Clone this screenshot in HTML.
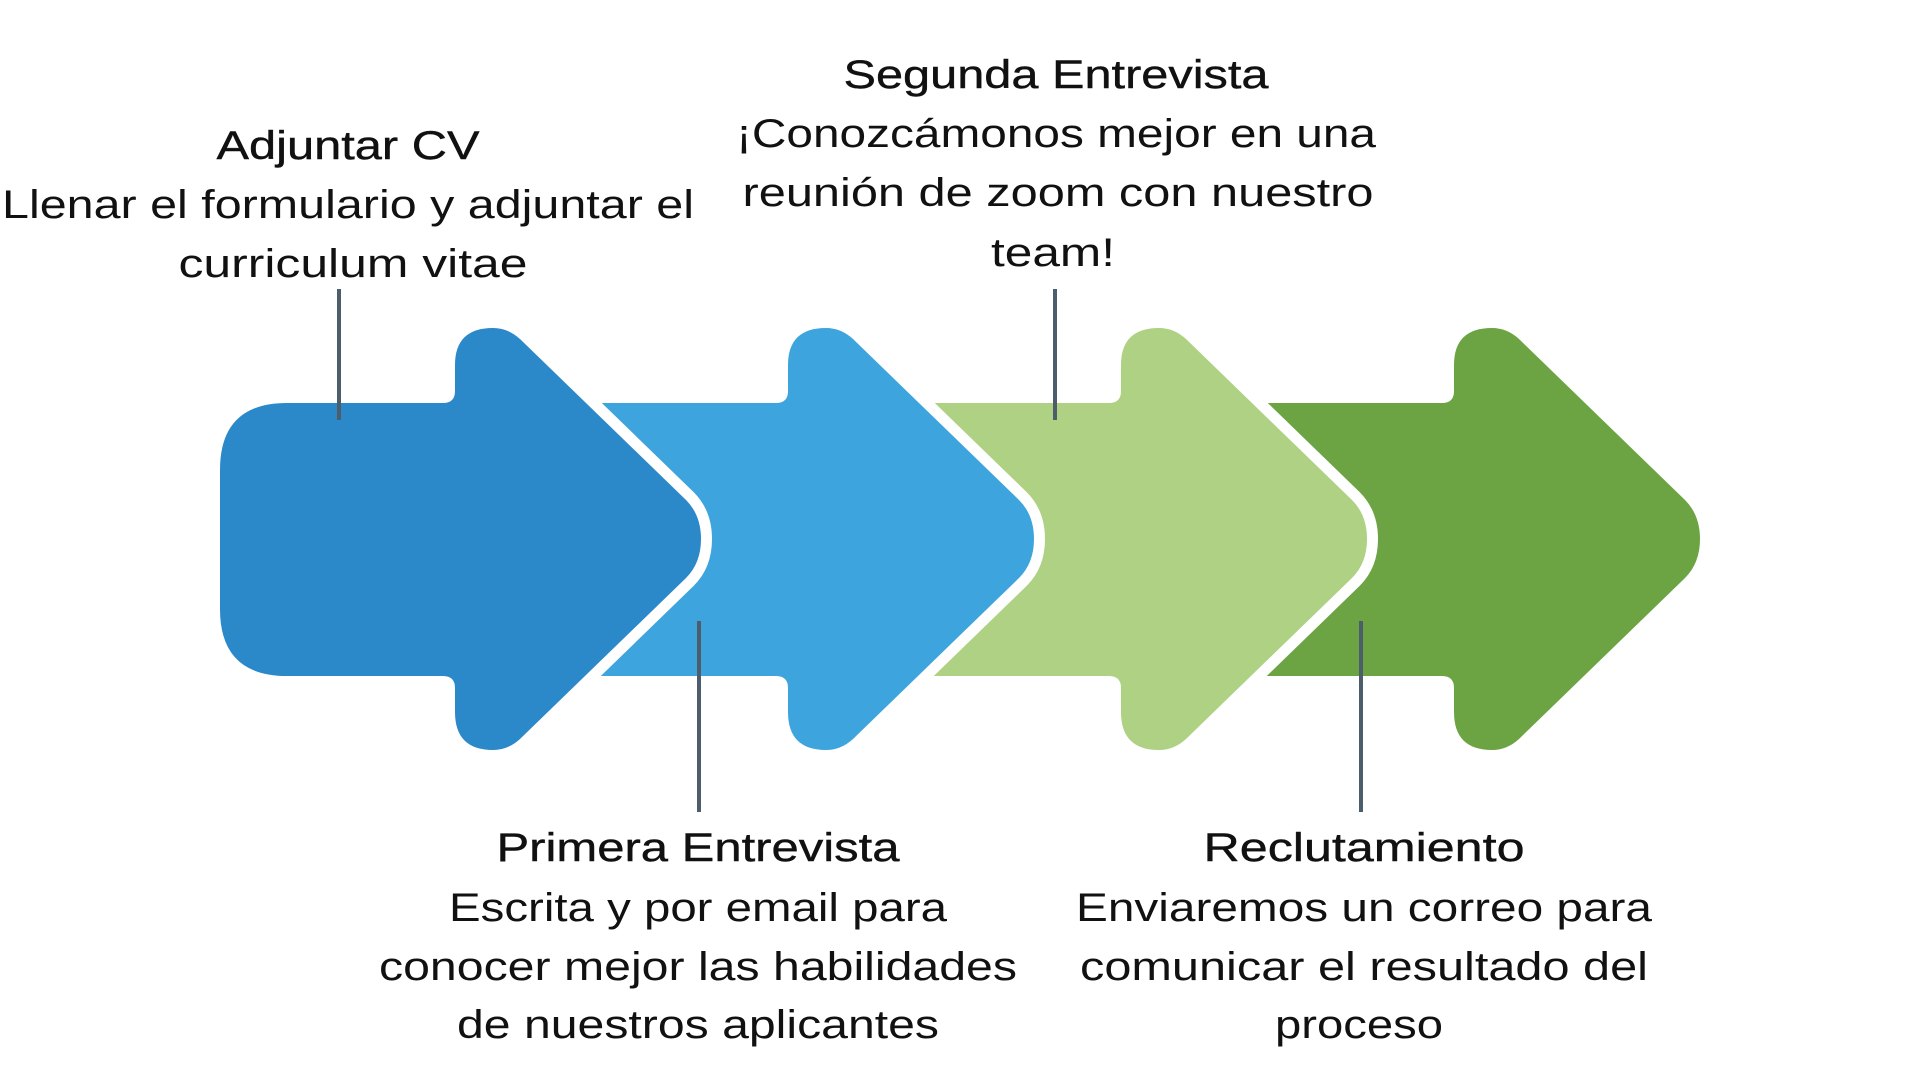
<!DOCTYPE html>
<html><head><meta charset="utf-8"><style>html,body{margin:0;padding:0;background:#fff}svg{display:block}</style></head>
<body>
<svg width="1920" height="1080" viewBox="0 0 1920 1080" xmlns="http://www.w3.org/2000/svg">
<defs>
<path id="ar" d="M 287,403 L 443,403 Q 455,403 455,391 L 455,365 Q 455,328 493,328 Q 508,328 520,339 L 686,500 Q 701,515 701,539 Q 701,563 686,578 L 520,739 Q 508,750 493,750 Q 455,750 455,712 L 455,688 Q 455,676 443,676 L 287,676 Q 220,676 220,609 L 220,470 Q 220,403 287,403 Z"/>
<path id="as" d="M 230,403 L 443,403 Q 455,403 455,391 L 455,365 Q 455,328 493,328 Q 508,328 520,339 L 686,500 Q 701,515 701,539 Q 701,563 686,578 L 520,739 Q 508,750 493,750 Q 455,750 455,712 L 455,688 Q 455,676 443,676 L 230,676 Z"/>
</defs>
<g stroke="#fff" stroke-width="22" stroke-linejoin="round" paint-order="stroke">
<use href="#as" fill="#6CA443" transform="translate(999 0)" stroke="none"/>
<use href="#as" fill="#AED184" transform="translate(666 0)"/>
<use href="#as" fill="#3DA4DD" transform="translate(333 0)"/>
<use href="#ar" fill="#2B88C9"/>
</g>
<g stroke="#4C5E6B" stroke-width="4">
<line x1="339" y1="289" x2="339" y2="420"/>
<line x1="699" y1="621" x2="699" y2="812"/>
<line x1="1055" y1="289" x2="1055" y2="420"/>
<line x1="1361" y1="621" x2="1361" y2="812"/>
</g>
<g font-family="Liberation Sans, sans-serif" font-size="40" fill="#111" text-anchor="middle">
<text x="348" y="159" textLength="263" lengthAdjust="spacingAndGlyphs" stroke="#111" stroke-width="0.4">Adjuntar CV</text>
<text x="348" y="218" textLength="692" lengthAdjust="spacingAndGlyphs">Llenar el formulario y adjuntar el</text>
<text x="353" y="277" textLength="349" lengthAdjust="spacingAndGlyphs">curriculum vitae</text>
<text x="1056" y="88" textLength="425" lengthAdjust="spacingAndGlyphs" stroke="#111" stroke-width="0.4">Segunda Entrevista</text>
<text x="1056" y="147" textLength="640" lengthAdjust="spacingAndGlyphs">¡Conozcámonos mejor en una</text>
<text x="1058" y="206" textLength="631" lengthAdjust="spacingAndGlyphs">reunión de zoom con nuestro</text>
<text x="1053" y="266" textLength="124" lengthAdjust="spacingAndGlyphs">team!</text>
<text x="698" y="861" textLength="403" lengthAdjust="spacingAndGlyphs" stroke="#111" stroke-width="0.4">Primera Entrevista</text>
<text x="698" y="921" textLength="498" lengthAdjust="spacingAndGlyphs">Escrita y por email para</text>
<text x="698" y="980" textLength="638" lengthAdjust="spacingAndGlyphs">conocer mejor las habilidades</text>
<text x="698" y="1038" textLength="482" lengthAdjust="spacingAndGlyphs">de nuestros aplicantes</text>
<text x="1364" y="861" textLength="321" lengthAdjust="spacingAndGlyphs" stroke="#111" stroke-width="0.4">Reclutamiento</text>
<text x="1364" y="921" textLength="576" lengthAdjust="spacingAndGlyphs">Enviaremos un correo para</text>
<text x="1364" y="980" textLength="568" lengthAdjust="spacingAndGlyphs">comunicar el resultado del</text>
<text x="1359" y="1038" textLength="168" lengthAdjust="spacingAndGlyphs">proceso</text>
</g>
</svg>
</body></html>
